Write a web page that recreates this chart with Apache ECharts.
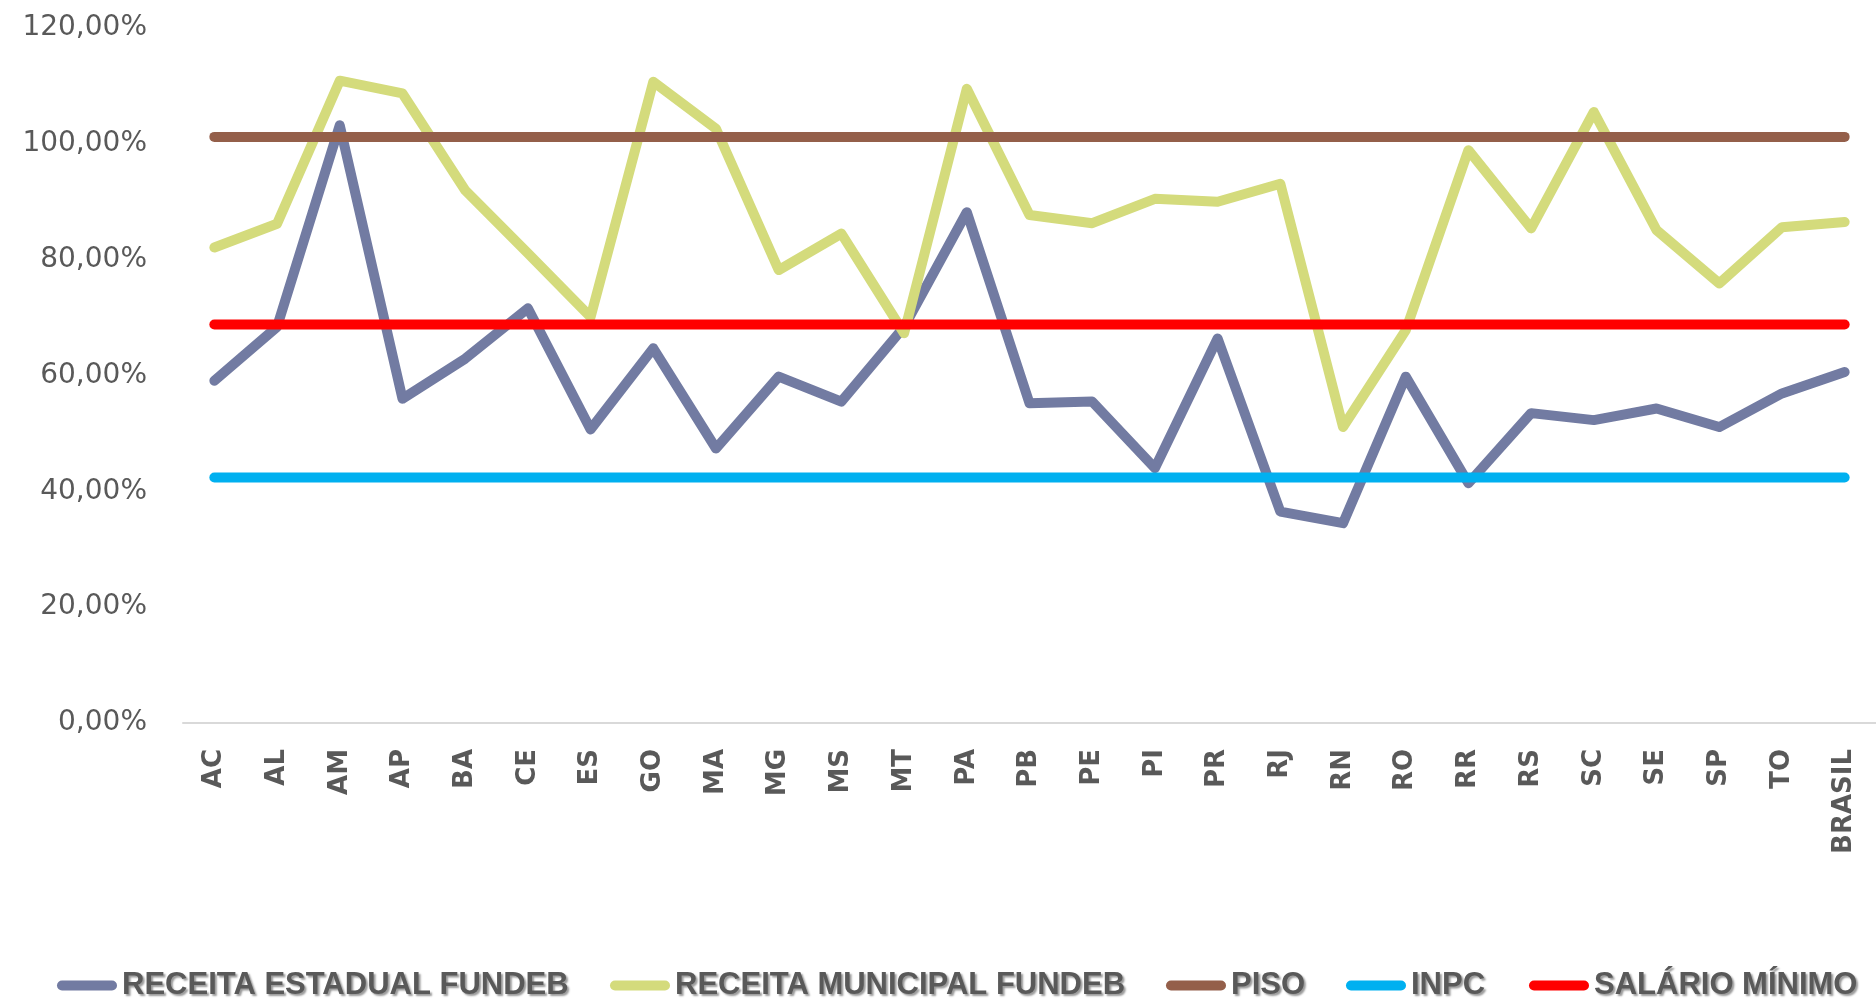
<!DOCTYPE html>
<html>
<head>
<meta charset="utf-8">
<script src="https://cdn.jsdelivr.net/npm/echarts@6/dist/echarts.min.js"></script>
<style>
html,body{margin:0;padding:0;background:#fff;}
#c{width:1876px;height:1001px;}
</style>
</head>
<body>
<div id="c"></div>
<script>
const categories = ['AC','AL','AM','AP','BA','CE','ES','GO','MA','MG','MS','MT','PA','PB','PE','PI','PR','RJ','RN','RO','RR','RS','SC','SE','SP','TO','BRASIL'];
const receitaEstadual = [59.1,68.4,103.2,56.0,62.9,71.6,50.7,64.7,47.4,59.8,55.5,68.4,88.2,55.2,55.5,44.0,66.4,36.5,34.5,59.8,41.4,53.5,52.3,54.3,51.1,56.9,60.6];
const receitaMunicipal = [82.1,86.2,110.9,108.7,92.0,81.1,70.1,110.7,102.6,78.2,84.5,67.3,109.5,87.7,86.3,90.5,90.0,93.1,51.1,67.8,98.9,85.4,105.5,85.1,75.9,85.6,86.5];
const piso = [101.2,101.2,101.2,101.2,101.2,101.2,101.2,101.2,101.2,101.2,101.2,101.2,101.2,101.2,101.2,101.2,101.2,101.2,101.2,101.2,101.2,101.2,101.2,101.2,101.2,101.2,101.2];
const inpc = [42.4,42.4,42.4,42.4,42.4,42.4,42.4,42.4,42.4,42.4,42.4,42.4,42.4,42.4,42.4,42.4,42.4,42.4,42.4,42.4,42.4,42.4,42.4,42.4,42.4,42.4,42.4];
const salarioMinimo = [68.8,68.8,68.8,68.8,68.8,68.8,68.8,68.8,68.8,68.8,68.8,68.8,68.8,68.8,68.8,68.8,68.8,68.8,68.8,68.8,68.8,68.8,68.8,68.8,68.8,68.8,68.8];
const seriesNames = ['RECEITA ESTADUAL FUNDEB','RECEITA MUNICIPAL FUNDEB','PISO','INPC','SALÁRIO MÍNIMO'];
const yTicks = [0,20,40,60,80,100,120];

const colors = ['#727ba2','#d4db7c','#945f4a','#00b0f0','#ff0000'];
const datasets = [receitaEstadual, receitaMunicipal, piso, inpc, salarioMinimo];
const legendLefts = [57,610,1166,1346,1529];

const chart = echarts.init(document.getElementById('c'), null, {renderer:'canvas'});
const icon = 'path://M5,0 L55,0 A5,5 0 0 1 55,10 L5,10 A5,5 0 0 1 5,0 Z';
chart.setOption({
  animation:false,
  backgroundColor:'#ffffff',
  grid:{left:183,right:0,top:28,bottom:278,containLabel:false},
  legend:seriesNames.map((n,i)=>({
    left:legendLefts[i], top:970, padding:0,
    itemWidth:60, itemHeight:11, itemGap:0,
    data:[{name:n,icon:icon,itemStyle:{color:colors[i]}}],
    textStyle:{
      fontFamily:'"Liberation Sans",Arial,sans-serif',
      fontWeight:'bold', fontSize:31, color:'#595959',
      textShadowColor:'rgba(0,0,0,0.4)', textShadowOffsetX:2, textShadowOffsetY:2, textShadowBlur:2
    }
  })),
  xAxis:{
    type:'category', data:categories, boundaryGap:true,
    axisLine:{lineStyle:{color:'#d9d9d9',width:2}},
    axisTick:{show:false},
    splitLine:{show:false},
    axisLabel:{interval:0, rotate:90, margin:26, color:'#595959',
      fontFamily:'"DejaVu Sans",sans-serif', fontWeight:'bold', fontSize:26}
  },
  yAxis:{
    type:'value', min:yTicks[0], max:yTicks[yTicks.length-1], interval:20,
    axisLine:{show:false}, axisTick:{show:false}, splitLine:{show:false},
    axisLabel:{margin:36, color:'#595959', fontFamily:'"DejaVu Sans",sans-serif', fontSize:28,
      formatter:v=>v.toFixed(2).replace('.',',')+'%'}
  },
  series:datasets.map((d,i)=>({
    name:seriesNames[i], type:'line', data:d, showSymbol:false, symbol:'none',
    z:2+i,
    lineStyle:{color:colors[i], width:10, cap:'round', join:'round'},
    itemStyle:{color:colors[i]}
  }))
});
</script>
</body>
</html>
